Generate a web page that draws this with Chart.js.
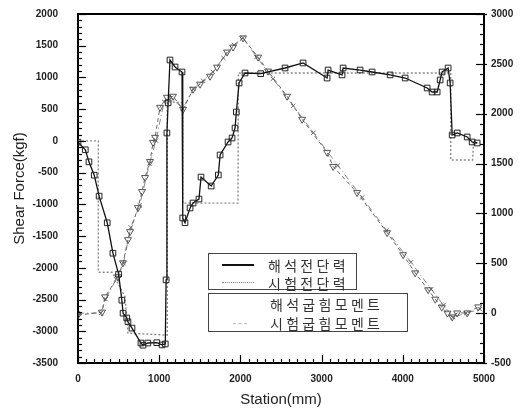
<!DOCTYPE html>
<html lang="ko">
<head>
  <meta charset="UTF-8" />
  <title>Shear Force / Bending Moment</title>
  <script src="https://cdn.jsdelivr.net/npm/chart.js"></script>
  <style>
    body {
      margin: 0;
      background: #fff;
      font-family: 'Liberation Sans', Arial, sans-serif;
    }
    .wrap {
      position: relative;
      width: 524px;
      height: 412px;
    }
    .legend {
      position: absolute;
      box-sizing: border-box;
      background: #fff;
      border: 1px solid #444;
      font-family: 'Noto Sans CJK KR', sans-serif;
      font-size: 14px;
      color: #333;
      letter-spacing: 3.3px;
    }
    .item {
      position: absolute;
      height: 18px;
      line-height: 18px;
      white-space: nowrap;
    }
    .sample {
      position: absolute;
      height: 0;
    }
  </style>
</head>
<body>
  <div class="wrap">
    <canvas id="chart" width="524" height="412"></canvas>

    <div class="legend" style="left:208px; top:253px; width:149px; height:37px;">
      <div class="sample" style="left:13px; top:10px; width:32px; border-top:2px solid #111;"></div>
      <div class="item" id="lg0" style="left:59px; top:2px;"></div>
      <div class="sample" style="left:13px; top:28px; width:32px; border-top:1.5px dotted #888;"></div>
      <div class="item" id="lg1" style="left:59px; top:20px;"></div>
    </div>
    <div class="legend" style="left:208px; top:293px; width:200px; height:39px;">
      <div class="item" id="lg2" style="left:61px; top:1px;"></div>
      <div class="sample" style="left:24px; top:29px; width:14px; border-top:1px dashed #bbb;"></div>
      <div class="item" id="lg3" style="left:61px; top:20px;"></div>
    </div>
  </div>

  <script>
    const seriesNames = ['해석전단력', '시험전단력', '해석굽힘모멘트', '시험굽힘모멘트'];

    // 해석 전단력 (kgf, left axis)
    const shearCalcX = [0, 90, 135, 200, 260, 360, 430, 500, 540, 555, 600, 615, 665, 775, 800, 860, 970, 1035,
      1075, 1085, 1095, 1110, 1133, 1195, 1281, 1290, 1318, 1380, 1417, 1490, 1515, 1640, 1728, 1750, 1848,
      1897, 1934, 1950, 1984, 2057, 2250, 2550, 2772, 3068, 3080, 3252, 3265, 3474, 3622, 3844, 4029, 4300,
      4361, 4423, 4460, 4484, 4558, 4583, 4608, 4670, 4793, 4854, 4916];
    const shearCalcY = [-20, -140, -330, -540, -870, -1290, -1770, -2100, -2510, -2715, -2790, -2850, -2950, -3185, -3220, -3185, -3180, -3215,
      -3200, -2190, 125, 600, 1275, 1165, 1086, -1215, -1290, -1057, -979, -916, -570, -711, -537, -222, -17,
      46, 203, 455, 913, 1070, 1060, 1149, 1228, 991, 1117, 1040, 1149, 1117, 1086, 1040, 991, 834,
      771, 771, 960, 1086, 1149, 913, 93, 125, 62, -17, -33];

    // 시험 전단력 (kgf, left axis)
    const shearTestX = [0, 250, 250, 420, 580, 616, 1100, 1100, 1290, 1290, 1970, 1975, 4590, 4590, 4860, 4870, 4950];
    const shearTestY = [0, 0, -2070, -2070, -2460, -3030, -3060, 620, 600, -980, -980, 1070, 1070, -300, -300, -30, -30];

    // 해석 굽힘모멘트 (right axis)
    const momCalcX = [0, 296, 333, 493, 554, 616, 641, 739, 788, 825, 887, 924, 949, 1010, 1096, 1170, 1294,
      1417, 1503, 1626, 1712, 1836, 1910, 2033, 2218, 2341, 2575, 2760, 3068, 3142, 3437, 3807, 4004, 4152,
      4312, 4400, 4480, 4550, 4608, 4670, 4793, 4928];
    const momCalcY = [-20, 10, 163, 364, 505, 737, 817, 1058, 1219, 1360, 1521, 1712, 1763, 2064, 2165, 2175, 2044,
      2245, 2296, 2376, 2467, 2618, 2668, 2760, 2567, 2427, 2175, 1944, 1612, 1471, 1209, 807, 586, 404,
      234, 140, 60, 0, -38, 2, 2, 63];

    // 시험 굽힘모멘트 (right axis)
    const momTestX = [0, 280, 340, 470, 560, 650, 760, 880, 960, 1060, 1150, 1290, 1420, 1540, 1660, 1790, 1920,
      2030, 2200, 2400, 2650, 2900, 3200, 3500, 3800, 4100, 4350, 4500, 4620, 4780, 4950];
    const momTestY = [0, 0, 140, 340, 500, 860, 1080, 1500, 1730, 2120, 2160, 2050, 2250, 2330, 2420, 2560, 2690,
      2760, 2570, 2350, 2080, 1810, 1480, 1160, 830, 510, 240, 80, -40, 0, 40];

    const xTicks = [0, 1000, 2000, 3000, 4000, 5000];
    const leftTicks = [-3500, -3000, -2500, -2000, -1500, -1000, -500, 0, 500, 1000, 1500, 2000];
    const rightTicks = [-500, 0, 500, 1000, 1500, 2000, 2500, 3000];
    const minorStep = 100;

    seriesNames.forEach((n, i) => document.getElementById('lg' + i).textContent = n);

    const toPts = (xs, ys) => xs.map((x, i) => ({ x: x, y: ys[i] }));
    const plain = v => String(v);

    const tickFont = { family: "'Liberation Sans', Arial, sans-serif", size: 10, weight: 'bold' };
    const titleFont = { family: "'Liberation Sans', Arial, sans-serif", size: 15 };

    // ticks inward, major + minor, plus the top frame line
    const frameTicks = {
      id: 'frameTicks',
      afterDraw(chart) {
        const ctx = chart.ctx;
        const a = chart.chartArea;
        const sx = chart.scales.x, sy = chart.scales.y, sy2 = chart.scales.y2;
        ctx.save();
        ctx.setLineDash([]);
        ctx.strokeStyle = '#000';
        ctx.lineWidth = 1.2;
        const seg = (x1, y1, x2, y2) => { ctx.beginPath(); ctx.moveTo(x1, y1); ctx.lineTo(x2, y2); ctx.stroke(); };

        for (let v = xTicks[0]; v <= xTicks[xTicks.length - 1]; v += minorStep) {
          const px = Math.round(sx.getPixelForValue(v)) + 0.5;
          seg(px, a.bottom, px, a.bottom - (xTicks.includes(v) ? 8 : 4));
        }
        for (let v = leftTicks[0]; v <= leftTicks[leftTicks.length - 1]; v += minorStep) {
          const py = Math.round(sy.getPixelForValue(v)) + 0.5;
          seg(a.left, py, a.left + (leftTicks.includes(v) ? 8 : 4), py);
        }
        for (let v = rightTicks[0]; v <= rightTicks[rightTicks.length - 1]; v += minorStep) {
          const py = Math.round(sy2.getPixelForValue(v)) + 0.5;
          const major = rightTicks.includes(v);
          seg(a.right + (major ? 3 : 0), py, a.right - (major ? 8 : 4), py);
        }
        ctx.lineWidth = 2;
        seg(a.left, a.top, a.right, a.top);
        ctx.restore();
      }
    };

    // chart.js adds tick padding to the edge padding, keep the plot box fixed
    const noEdgePad = s => { s.paddingTop = 6; s.paddingBottom = 6; s.paddingLeft = 6; s.paddingRight = 6; };

    new Chart(document.getElementById('chart').getContext('2d'), {
      type: 'line',
      data: {
        datasets: [
          {
            label: seriesNames[0],
            data: toPts(shearCalcX, shearCalcY),
            yAxisID: 'y',
            borderColor: '#111',
            borderWidth: 1.3,
            pointStyle: 'rect',
            pointRadius: 4,
            pointBorderWidth: 1,
            pointBorderColor: '#222',
            pointBackgroundColor: 'rgba(255,255,255,0)',
            tension: 0,
            order: 1
          },
          {
            label: seriesNames[1],
            data: toPts(shearTestX, shearTestY),
            yAxisID: 'y',
            borderColor: '#8a8a8a',
            borderWidth: 1.4,
            borderDash: [2, 2],
            pointRadius: 0,
            tension: 0,
            order: 2
          },
          {
            label: seriesNames[2],
            data: toPts(momCalcX, momCalcY),
            yAxisID: 'y2',
            borderColor: '#666',
            borderWidth: 1,
            borderDash: [4, 3],
            pointStyle: 'triangle',
            pointRotation: 180,
            pointRadius: 4,
            pointBorderWidth: 1,
            pointBorderColor: '#555',
            pointBackgroundColor: 'rgba(255,255,255,0)',
            tension: 0,
            order: 3
          },
          {
            label: seriesNames[3],
            data: toPts(momTestX, momTestY),
            yAxisID: 'y2',
            borderColor: '#888',
            borderWidth: 1,
            borderDash: [6, 3, 1, 3],
            pointStyle: 'crossRot',
            pointRadius: 3,
            pointBorderWidth: 1,
            pointBorderColor: '#666',
            tension: 0,
            order: 4
          }
        ]
      },
      options: {
        responsive: false,
        animation: false,
        layout: { padding: { top: 14, left: 0, right: 0, bottom: 0 } },
        plugins: {
          legend: { display: false },
          tooltip: { enabled: false }
        },
        scales: {
          x: {
            type: 'linear',
            min: 0,
            max: 5000,
            afterBuildTicks: s => { s.ticks = xTicks.map(v => ({ value: v })); },
            ticks: { font: tickFont, color: '#222', padding: 10, maxRotation: 0, callback: plain },
            grid: { display: false, drawTicks: false },
            border: { color: '#000', width: 2 },
            title: { display: true, text: 'Station(mm)', font: titleFont, color: '#222', padding: { top: 0, bottom: 3 } },
            afterFit: s => { s.height = 49; noEdgePad(s); }
          },
          y: {
            position: 'left',
            min: -3500,
            max: 2000,
            afterBuildTicks: s => { s.ticks = leftTicks.map(v => ({ value: v })); },
            ticks: { font: tickFont, color: '#222', padding: 20, callback: plain },
            grid: { display: false, drawTicks: false },
            border: { color: '#000', width: 2 },
            title: { display: true, text: 'Shear Force(kgf)', font: titleFont, color: '#222', padding: { top: 11, bottom: 0 } },
            afterFit: s => { s.width = 78; noEdgePad(s); }
          },
          y2: {
            position: 'right',
            min: -500,
            max: 3000,
            afterBuildTicks: s => { s.ticks = rightTicks.map(v => ({ value: v })); },
            ticks: { font: tickFont, color: '#222', padding: 7, callback: plain },
            grid: { display: false, drawTicks: false },
            border: { color: '#000', width: 2 },
            afterFit: s => { s.width = 40; noEdgePad(s); }
          }
        }
      },
      plugins: [frameTicks]
    });
  </script>
</body>
</html>
